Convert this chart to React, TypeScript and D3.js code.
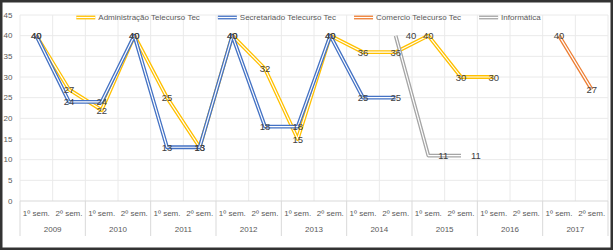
import React, { useEffect, useRef } from 'react';
import * as d3 from 'd3';

const years = ['2009', '2010', '2011', '2012', '2013', '2014', '2015', '2016', '2017'];
const semesters = ['1º sem.', '2º sem.'];
const yTicks = [0, 5, 10, 15, 20, 25, 30, 35, 40, 45];

const seriesNames = ['Administração Telecurso Tec', 'Secretariado Telecurso Tec', 'Comercio Telecurso Tec', 'Informática'];
const administracao: (number | null)[] = [40, 27, 22, 40, 25, 13, 40, 32, 15, 40, 36, 36, 40, 30, 30, null, null, null];
const secretariado: (number | null)[] = [40, 24, 24, 40, 13, 13, 40, 18, 18, 40, 25, 25, null, null, null, null, null, null];
const comercio: (number | null)[] = [null, null, null, null, null, null, null, null, null, null, null, null, null, null, null, null, 40, 27];
const informatica: (number | null)[] = [null, null, null, null, null, null, null, null, null, null, null, 40, 11, 11, null, null, null, null];

const seriesColors = ['#FFC000', '#4472C4', '#ED7D31', '#A5A5A5'];
const labelRight = [false, false, false, true];

const W = 614;
const H = 252;
const FONT = '"Liberation Sans", Arial, sans-serif';

export default function App() {
  const ref = useRef<SVGSVGElement>(null);

  useEffect(() => {
    const svg = d3.select(ref.current);
    svg.selectAll('*').remove();

    const categories: { year: string; sem: string; key: string }[] = [];
    years.forEach((yr) => semesters.forEach((s) => categories.push({ year: yr, sem: s, key: yr + '|' + s })));

    const plotL = 20, plotR = 608, plotT = 15, plotB = 201;
    const x = d3.scaleBand<number>().domain(categories.map((_, i) => i)).range([plotL, plotR]);
    const bw = x.bandwidth();
    const cx = (i: number) => (x(i) as number) + bw / 2;
    const y = d3.scaleLinear().domain([0, 45]).range([plotB, plotT]);

    svg.append('rect').attr('x', 0).attr('y', 0).attr('width', W).attr('height', H).attr('fill', '#fff');

    const grid = svg.append('g');
    // horizontal gridlines
    yTicks.filter((t) => t > 0).forEach((t) => {
      grid.append('line').attr('x1', plotL).attr('x2', plotR).attr('y1', y(t)).attr('y2', y(t))
        .attr('stroke', '#EAEAEA').attr('stroke-width', 1);
    });
    // vertical gridlines at category boundaries
    for (let i = 0; i <= categories.length; i++) {
      const xx = plotL + i * bw;
      grid.append('line').attr('x1', xx).attr('x2', xx).attr('y1', plotT).attr('y2', plotB)
        .attr('stroke', '#EAEAEA').attr('stroke-width', 1);
    }
    // axis line
    grid.append('line').attr('x1', plotL).attr('x2', plotR).attr('y1', plotB).attr('y2', plotB)
      .attr('stroke', '#D9D9D9').attr('stroke-width', 1);
    // year separators below the axis
    for (let k = 0; k <= years.length; k++) {
      const xx = plotL + k * 2 * bw;
      grid.append('line').attr('x1', xx).attr('x2', xx).attr('y1', plotB).attr('y2', 236)
        .attr('stroke', '#D9D9D9').attr('stroke-width', 1);
    }

    // y labels
    const yl = svg.append('g').attr('font-family', FONT).attr('font-size', 8).attr('fill', '#595959');
    yTicks.forEach((t) => {
      yl.append('text').attr('x', 12.5).attr('y', y(t)).attr('text-anchor', 'end')
        .attr('dominant-baseline', 'central').text(String(t));
    });

    // category labels
    const xl = svg.append('g').attr('font-family', FONT).attr('font-size', 8).attr('fill', '#595959');
    categories.forEach((c, i) => {
      xl.append('text').attr('x', cx(i)).attr('y', 213).attr('text-anchor', 'middle')
        .attr('dominant-baseline', 'central').text(c.sem);
    });
    years.forEach((yr, k) => {
      xl.append('text').attr('x', plotL + (k * 2 + 1) * bw).attr('y', 229.5).attr('text-anchor', 'middle')
        .attr('dominant-baseline', 'central').text(yr);
    });

    const allSeries = [administracao, secretariado, comercio, informatica];
    const line = d3.line<number | null>()
      .defined((d) => d != null)
      .x((_, i) => cx(i))
      .y((d) => y(d as number));

    const lines = svg.append('g');
    allSeries.forEach((data, si) => {
      lines.append('path').attr('d', line(data) as string).attr('fill', 'none')
        .attr('stroke', seriesColors[si]).attr('stroke-width', 3.8).attr('stroke-linejoin', 'round');
      lines.append('path').attr('d', line(data) as string).attr('fill', 'none')
        .attr('stroke', '#fff').attr('stroke-width', 1.2).attr('stroke-linejoin', 'round');
    });

    const labels = svg.append('g').attr('font-family', FONT).attr('font-size', 9.5).attr('fill', '#404040');
    allSeries.forEach((data, si) => {
      data.forEach((v, i) => {
        if (v == null) return;
        labels.append('text')
          .attr('x', labelRight[si] ? cx(i) + 10 : cx(i))
          .attr('y', y(v))
          .attr('text-anchor', labelRight[si] ? 'start' : 'middle')
          .attr('dominant-baseline', 'central')
          .text(String(v));
      });
    });

    // legend
    const lg = svg.append('g').attr('font-family', FONT).attr('font-size', 8).attr('fill', '#595959');
    const legY = 17.5;
    const markerW = 19, gapMT = 3, gapItems = 18;
    const items = seriesNames.map((name, si) => {
      const g = lg.append('g');
      g.append('line').attr('x1', 0).attr('x2', markerW).attr('y1', legY).attr('y2', legY)
        .attr('stroke', seriesColors[si]).attr('stroke-width', 3.8);
      g.append('line').attr('x1', 0).attr('x2', markerW).attr('y1', legY).attr('y2', legY)
        .attr('stroke', '#fff').attr('stroke-width', 1.2);
      const t = g.append('text').attr('x', markerW + gapMT).attr('y', legY)
        .attr('dominant-baseline', 'central').text(name);
      const tw = (t.node() as SVGTextElement).getComputedTextLength();
      return { g, w: markerW + gapMT + tw };
    });
    const total = items.reduce((s, it) => s + it.w, 0) + gapItems * (items.length - 1);
    let start = 308.5 - total / 2;
    items.forEach((it) => {
      it.g.attr('transform', `translate(${start},0)`);
      start += it.w + gapItems;
    });

    // outer frame
    svg.append('rect').attr('x', 1.25).attr('y', 1.25).attr('width', 610.5).attr('height', 247.5)
      .attr('fill', 'none').attr('stroke', '#333').attr('stroke-width', 2.5);
  }, []);

  return (
    <svg ref={ref} width={W} height={H} style={{ position: 'absolute', left: 0, top: 0, display: 'block' }} />
  );
}
